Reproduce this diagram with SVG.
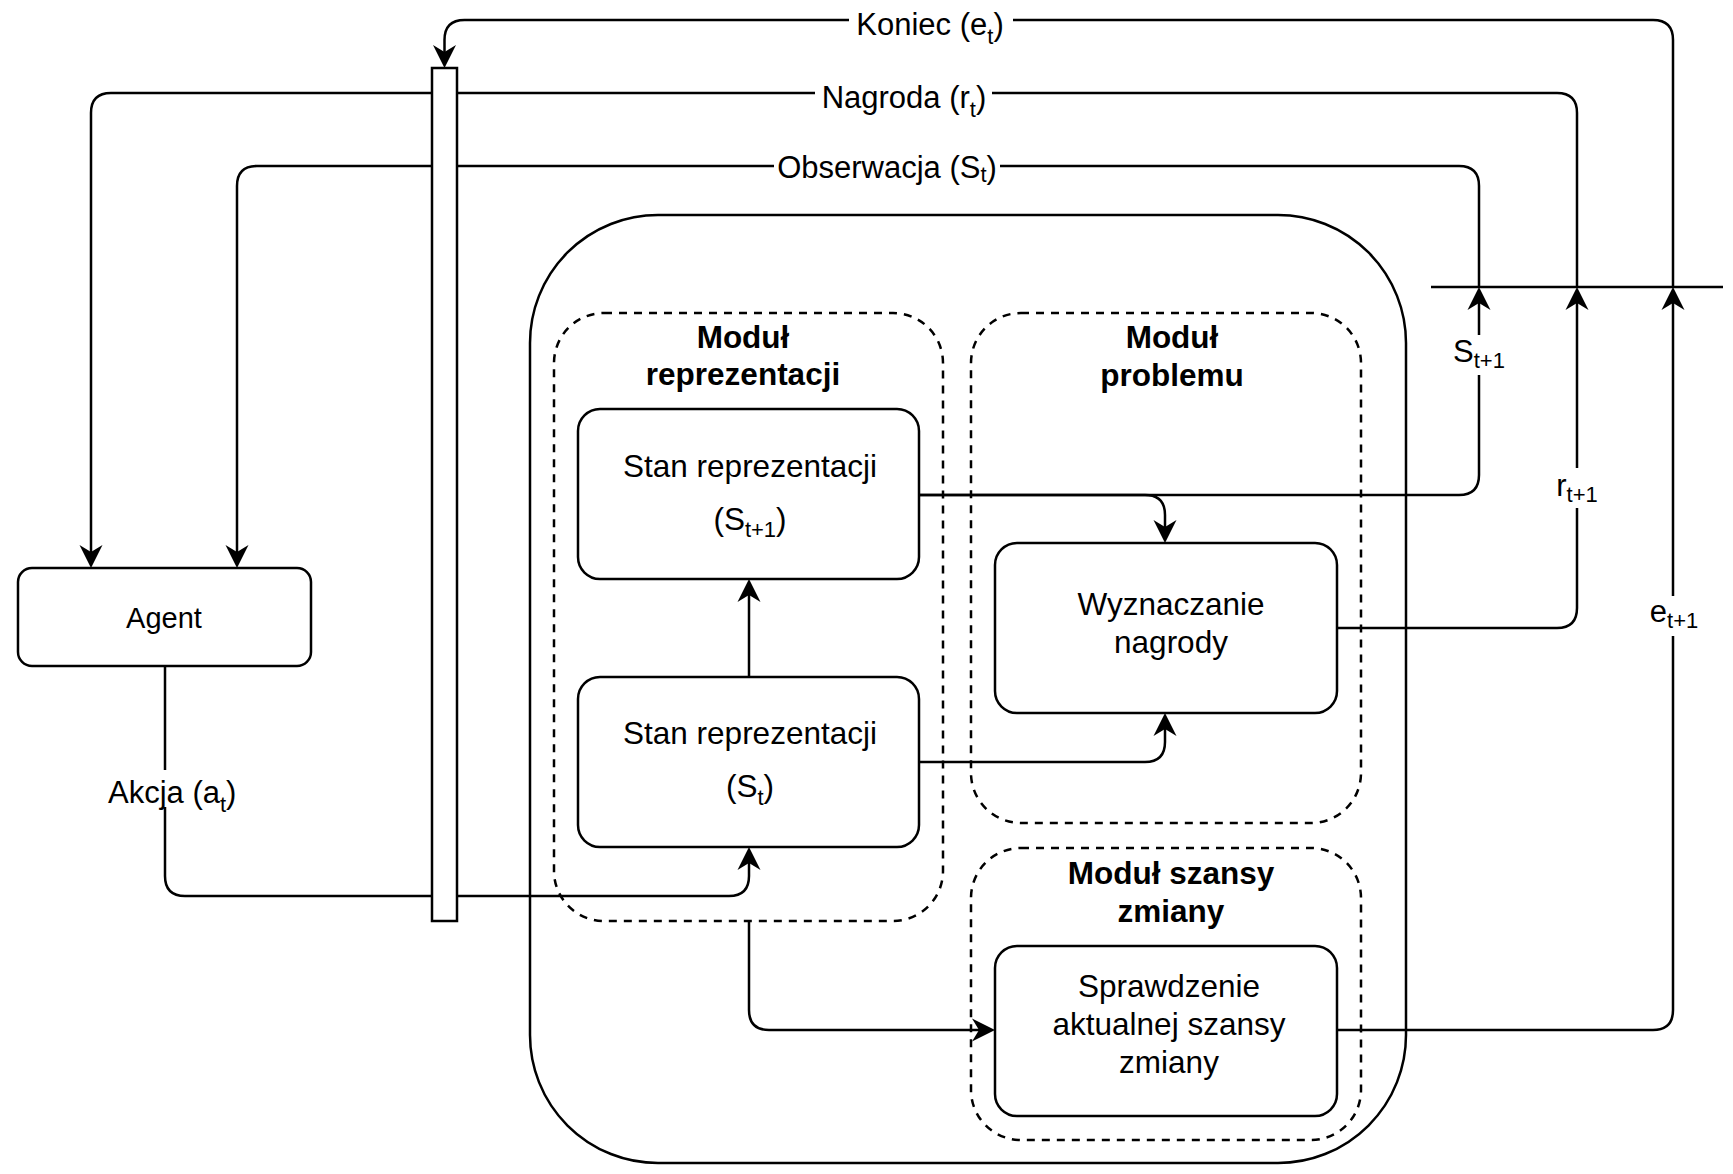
<svg xmlns="http://www.w3.org/2000/svg" width="1733" height="1174" viewBox="0 0 1733 1174">
<defs>
<style>
.ln{fill:none;stroke:#000;stroke-width:2.5;}
.box{fill:#fff;stroke:#000;stroke-width:2.5;}
.mod{fill:none;stroke:#000;stroke-width:2.5;stroke-dasharray:8 7;}
.t{font-family:"Liberation Sans",Arial,sans-serif;font-size:31.5px;fill:#000;text-anchor:middle;}
.b{font-weight:bold;}
.lb{font-family:"Liberation Sans",Arial,sans-serif;font-size:31px;fill:#000;text-anchor:middle;}
.bg{fill:#fff;stroke:none;}
</style>
<marker id="arr" viewBox="-13 -13 27 26" markerWidth="27" markerHeight="26" refX="0" refY="0" orient="auto" markerUnits="userSpaceOnUse">
<path d="M12,0 L-11,-11.5 L-4,0 L-11,11.5 Z" fill="#000"/>
</marker>
</defs>
<rect width="1733" height="1174" fill="#fff"/>

<g id="environment">
<rect class="ln" x="530" y="215" width="876" height="948" rx="128" ry="128"/>
</g>
<g id="modul-reprezentacji">
<rect class="mod" x="554" y="313" width="389" height="608" rx="50" ry="50"/>
<text class="t b" x="743" y="348">Moduł</text>
<text class="t b" x="743" y="385">reprezentacji</text>
</g>
<g id="modul-problemu">
<rect class="mod" x="971" y="313" width="390" height="510" rx="50" ry="50"/>
<text class="t b" x="1172" y="348">Moduł</text>
<text class="t b" x="1172" y="386">problemu</text>
</g>
<g id="modul-szansy">
<rect class="mod" x="971" y="848" width="390" height="292" rx="50" ry="50"/>
<text class="t b" x="1171" y="884">Moduł szansy</text>
<text class="t b" x="1171" y="922">zmiany</text>
</g>
<g id="timestep-line">
<line class="ln" x1="1431" y1="287" x2="1723" y2="287"/>
</g>

<g id="connectors">
<path class="ln" d="M1673,287 V40 Q1673,20 1653,20 H464.5 Q444.5,20 444.5,40 V56" marker-end="url(#arr)"/>
<path class="ln" d="M1577,287 V113 Q1577,93 1557,93 H111 Q91,93 91,113 V556" marker-end="url(#arr)"/>
<path class="ln" d="M1479,287 V186 Q1479,166 1459,166 H257 Q237,166 237,186 V556" marker-end="url(#arr)"/>
<path class="ln" d="M919,495 H1459 Q1479,495 1479,475 V299" marker-end="url(#arr)"/>
<path class="ln" d="M919,495 H1145 Q1165,495 1165,515 V531" marker-end="url(#arr)"/>
<path class="ln" d="M749,677 V591" marker-end="url(#arr)"/>
<path class="ln" d="M919,762 H1145 Q1165,762 1165,742 V725" marker-end="url(#arr)"/>
<path class="ln" d="M749,921 V1010 Q749,1030 769,1030 H983" marker-end="url(#arr)"/>
<path class="ln" d="M1337,628 H1557 Q1577,628 1577,608 V299" marker-end="url(#arr)"/>
<path class="ln" d="M1337,1030 H1653 Q1673,1030 1673,1010 V299" marker-end="url(#arr)"/>
<path class="ln" d="M165,666 V876 Q165,896 185,896 H729 Q749,896 749,876 V859" marker-end="url(#arr)"/>
<g id="edge-labels">
<rect class="bg" x="849" y="4" width="164" height="44"/>
<text class="lb" x="930" y="35">Koniec (e<tspan font-size="22" dy="9">t</tspan><tspan dy="-9">)</tspan></text>
<rect class="bg" x="815" y="76" width="177" height="44"/>
<text class="lb" x="904" y="108">Nagroda (r<tspan font-size="22" dy="9">t</tspan><tspan dy="-9">)</tspan></text>
<rect class="bg" x="774" y="148" width="226" height="40"/>
<text class="lb" x="887" y="178">Obserwacja (S<tspan font-size="22" dy="4">t</tspan><tspan dy="-4">)</tspan></text>
<rect class="bg" x="1452" y="335" width="54" height="40"/>
<text class="lb" x="1479" y="362">S<tspan font-size="22" dy="6">t+1</tspan></text>
<rect class="bg" x="1552" y="468" width="50" height="40"/>
<text class="lb" x="1577" y="496">r<tspan font-size="22" dy="6">t+1</tspan></text>
<rect class="bg" x="1648" y="596" width="52" height="40"/>
<text class="lb" x="1674" y="622">e<tspan font-size="22" dy="6">t+1</tspan></text>
<rect class="bg" x="106" y="770" width="140" height="37"/>
<text class="lb" x="108" y="803" style="text-anchor:start">Akcja (a<tspan font-size="22" dy="9">t</tspan><tspan dy="-9">)</tspan></text>
</g>
</g>

<g id="agent">
<rect class="box" x="18" y="568" width="293" height="98" rx="14" ry="14"/>
<text class="t" x="164" y="628" style="font-size:29px">Agent</text>
</g>
<g id="bar">
<rect class="box" x="432" y="68" width="25" height="853"/>
</g>
<g id="stan-t1">
<rect class="box" x="578" y="409" width="341" height="170" rx="22" ry="22"/>
<text class="t" x="750" y="477">Stan reprezentacji</text>
<text class="t" x="750" y="530">(S<tspan font-size="22" dy="7">t+1</tspan><tspan dy="-7">)</tspan></text>
</g>
<g id="stan-t">
<rect class="box" x="578" y="677" width="341" height="170" rx="22" ry="22"/>
<text class="t" x="750" y="744">Stan reprezentacji</text>
<text class="t" x="750" y="797">(S<tspan font-size="22" dy="8">t</tspan><tspan dy="-8">)</tspan></text>
</g>
<g id="wyznaczanie">
<rect class="box" x="995" y="543" width="342" height="170" rx="22" ry="22"/>
<text class="t" x="1171" y="615">Wyznaczanie</text>
<text class="t" x="1171" y="653">nagrody</text>
</g>
<g id="sprawdzenie">
<rect class="box" x="995" y="946" width="342" height="170" rx="22" ry="22"/>
<text class="t" x="1169" y="997">Sprawdzenie</text>
<text class="t" x="1169" y="1035">aktualnej szansy</text>
<text class="t" x="1169" y="1073">zmiany</text>
</g>
</svg>
